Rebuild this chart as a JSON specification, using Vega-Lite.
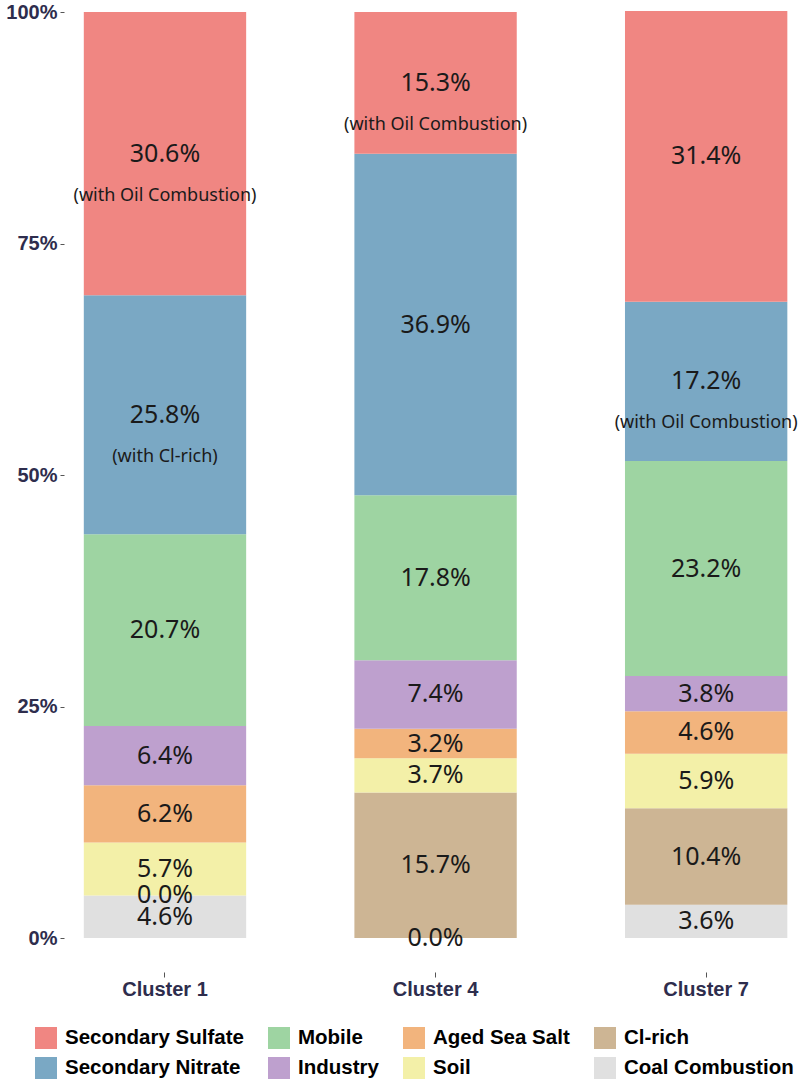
{
  "$schema": "https://vega.github.io/schema/vega-lite/v6.json",
  "width": 736,
  "height": 926,
  "autosize": {"type": "none"},
  "padding": {"left": 64, "top": 12, "right": 0, "bottom": 142},
  "background": "white",
  "config": {
    "view": {"stroke": null},
    "font": "Liberation Sans"
  },
  "data": {
    "values": [
      {"cluster": "Cluster 1", "source": "Coal Combustion", "share": 0.046, "note": ""},
      {"cluster": "Cluster 1", "source": "Cl-rich", "share": 0.000, "note": ""},
      {"cluster": "Cluster 1", "source": "Soil", "share": 0.057, "note": ""},
      {"cluster": "Cluster 1", "source": "Aged Sea Salt", "share": 0.062, "note": ""},
      {"cluster": "Cluster 1", "source": "Industry", "share": 0.064, "note": ""},
      {"cluster": "Cluster 1", "source": "Mobile", "share": 0.207, "note": ""},
      {"cluster": "Cluster 1", "source": "Secondary Nitrate", "share": 0.258, "note": "(with Cl-rich)"},
      {"cluster": "Cluster 1", "source": "Secondary Sulfate", "share": 0.306, "note": "(with Oil Combustion)"},
      {"cluster": "Cluster 4", "source": "Coal Combustion", "share": 0.000, "note": ""},
      {"cluster": "Cluster 4", "source": "Cl-rich", "share": 0.157, "note": ""},
      {"cluster": "Cluster 4", "source": "Soil", "share": 0.037, "note": ""},
      {"cluster": "Cluster 4", "source": "Aged Sea Salt", "share": 0.032, "note": ""},
      {"cluster": "Cluster 4", "source": "Industry", "share": 0.074, "note": ""},
      {"cluster": "Cluster 4", "source": "Mobile", "share": 0.178, "note": ""},
      {"cluster": "Cluster 4", "source": "Secondary Nitrate", "share": 0.369, "note": ""},
      {"cluster": "Cluster 4", "source": "Secondary Sulfate", "share": 0.153, "note": "(with Oil Combustion)"},
      {"cluster": "Cluster 7", "source": "Coal Combustion", "share": 0.036, "note": ""},
      {"cluster": "Cluster 7", "source": "Cl-rich", "share": 0.104, "note": ""},
      {"cluster": "Cluster 7", "source": "Soil", "share": 0.059, "note": ""},
      {"cluster": "Cluster 7", "source": "Aged Sea Salt", "share": 0.046, "note": ""},
      {"cluster": "Cluster 7", "source": "Industry", "share": 0.038, "note": ""},
      {"cluster": "Cluster 7", "source": "Mobile", "share": 0.232, "note": ""},
      {"cluster": "Cluster 7", "source": "Secondary Nitrate", "share": 0.172, "note": "(with Oil Combustion)"},
      {"cluster": "Cluster 7", "source": "Secondary Sulfate", "share": 0.314, "note": ""}
    ]
  },
  "transform": [
    {"calculate": "indexof(['Coal Combustion','Cl-rich','Soil','Aged Sea Salt','Industry','Mobile','Secondary Nitrate','Secondary Sulfate'], datum.source)", "as": "stackOrder"},
    {"stack": "share", "groupby": ["cluster"], "sort": [{"field": "stackOrder", "order": "ascending"}], "as": ["lo", "hi"]},
    {"calculate": "(datum.lo + datum.hi) / 2", "as": "mid"}
  ],
  "encoding": {
    "x": {
      "field": "cluster",
      "type": "nominal",
      "title": null,
      "scale": {"paddingInner": 0.4, "paddingOuter": 0.06, "align": 0.61},
      "axis": {
        "labelAngle": 0,
        "labelFont": "Liberation Sans",
        "labelFontWeight": "bold",
        "labelFontSize": 20,
        "labelColor": "#2e2d4d",
        "labelPadding": 2,
        "domain": false,
        "tickSize": 5,
        "tickColor": "#555555",
        "offset": 34,
        "grid": false
      }
    }
  },
  "layer": [
    {
      "mark": {"type": "bar"},
      "encoding": {
        "y": {
          "field": "lo",
          "type": "quantitative",
          "title": null,
          "scale": {"domain": [0, 1], "nice": false},
          "axis": {
            "values": [0, 0.25, 0.5, 0.75, 1],
            "format": ".0%",
            "labelFont": "Liberation Sans",
            "labelFontWeight": "bold",
            "labelFontSize": 20,
            "labelColor": "#2e2d4d",
            "labelPadding": 3,
            "domain": false,
            "grid": false,
            "tickSize": 4,
            "tickColor": "#555555"
          }
        },
        "y2": {"field": "hi"},
        "color": {
          "field": "source",
          "type": "nominal",
          "scale": {
            "domain": ["Secondary Sulfate", "Mobile", "Aged Sea Salt", "Cl-rich", "Secondary Nitrate", "Industry", "Soil", "Coal Combustion"],
            "range": ["#F08682", "#9ED4A2", "#F2B47D", "#CDB594", "#7AA8C4", "#BEA0CE", "#F3F0A8", "#E0E0E0"]
          },
          "legend": {
            "title": null,
            "orient": "none",
            "legendX": -29,
            "legendY": 1015,
            "direction": "horizontal",
            "columns": 4,
            "columnPadding": 24,
            "rowPadding": 8,
            "symbolType": "square",
            "symbolSize": 484,
            "symbolStrokeWidth": 0,
            "symbolOpacity": 1,
            "labelFont": "Liberation Sans",
            "labelFontWeight": "bold",
            "labelFontSize": 20.5,
            "labelColor": "#000000",
            "labelOffset": 8,
            "labelLimit": 400
          }
        }
      }
    },
    {
      "mark": {"type": "text", "font": "Noto Sans", "fontSize": 25, "color": "#1a1a1a", "baseline": "middle", "align": "center"},
      "encoding": {
        "y": {"field": "mid", "type": "quantitative"},
        "text": {"field": "share", "type": "quantitative", "format": ".1%"}
      }
    },
    {
      "transform": [{"filter": "datum.note != ''"}],
      "mark": {"type": "text", "font": "Noto Sans", "fontSize": 18, "color": "#1a1a1a", "baseline": "middle", "align": "center", "dy": 42},
      "encoding": {
        "y": {"field": "mid", "type": "quantitative"},
        "text": {"field": "note"}
      }
    }
  ]
}
